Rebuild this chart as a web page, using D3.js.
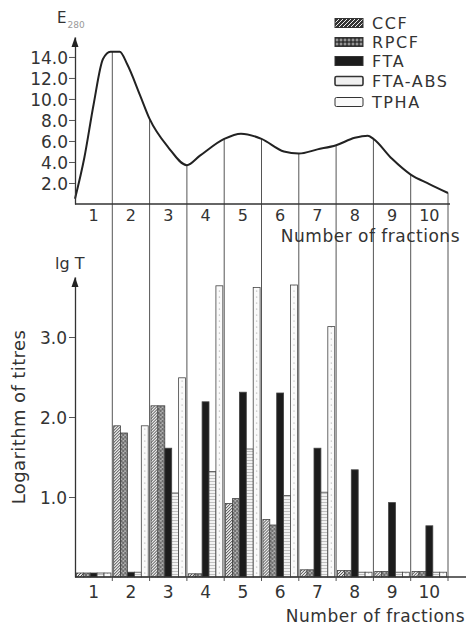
<!DOCTYPE html>
<html>
<head>
<meta charset="utf-8">
<script src="https://cdn.jsdelivr.net/npm/d3@7"></script>
<style>
  body { margin: 0; background: #fff; }
  svg text { font-family: "DejaVu Sans", sans-serif; fill: #333; }
</style>
</head>
<body>
<div id="chart"></div>
<script>
// fractions and series
var fractions = ["1", "2", "3", "4", "5", "6", "7", "8", "9", "10"];
var seriesNames = ["CCF", "RPCF", "FTA", "FTA-ABS", "TPHA"];

// lg T per fraction
var ccf    = [0.05, 1.89, 2.14, 0.04, 0.92, 0.72, 0.09, 0.08, 0.07, 0.07];
var rpcf   = [0.05, 1.80, 2.14, 0.04, 0.98, 0.65, 0.09, 0.08, 0.07, 0.07];
var fta    = [0.05, 0.06, 1.61, 2.19, 2.31, 2.30, 1.61, 1.34, 0.93, 0.64];
var ftaAbs = [0.05, 0.06, 1.05, 1.32, 1.60, 1.02, 1.06, 0.06, 0.06, 0.06];
var tpha   = [0.05, 1.89, 2.49, 3.64, 3.62, 3.65, 3.13, 0.06, 0.06, 0.06];

// E280 elution curve (position in fraction units, value)
var curvePos = [0, 0.25, 0.5, 0.75, 0.95, 1.0, 1.2, 1.4, 1.75, 2.0, 2.5, 3.0, 3.35, 4.0, 4.45, 5.0, 5.6, 6.0, 6.5, 7.0, 7.5, 7.85, 8.0, 8.5, 9.0, 9.5, 10];
var curveE   = [0.5, 4.4, 9.5, 13.8, 14.5, 14.5, 14.5, 13.3, 10.3, 8.1, 5.4, 3.7, 4.6, 6.2, 6.7, 6.2, 5.0, 4.8, 5.2, 5.6, 6.3, 6.5, 6.2, 4.3, 2.8, 1.9, 1.05];

var topTicks = [2, 4, 6, 8, 10, 12, 14];
var lowTicks = [1, 2, 3];

var W = 467, H = 627;
var left = 75, right = 448;
var topBase = 204, lowBase = 577;

var svg = d3.select("#chart").append("svg")
    .attr("width", W)
    .attr("height", H);

// patterns
var defs = svg.append("defs");

var p = defs.append("pattern").attr("id", "ccf").attr("patternUnits", "userSpaceOnUse")
    .attr("width", 3).attr("height", 3);
p.append("rect").attr("width", 3).attr("height", 3).attr("fill", "#e8e8e8");
p.append("path").attr("d", "M0,3 L3,0 M-1,1 L1,-1 M2,4 L4,2").attr("stroke", "#333").attr("stroke-width", 0.9);

p = defs.append("pattern").attr("id", "rpcf").attr("patternUnits", "userSpaceOnUse")
    .attr("width", 4).attr("height", 4);
p.append("rect").attr("width", 4).attr("height", 4).attr("fill", "#bbb");
p.append("circle").attr("cx", 1).attr("cy", 1).attr("r", 1).attr("fill", "none").attr("stroke", "#333").attr("stroke-width", 0.7);
p.append("circle").attr("cx", 3).attr("cy", 3).attr("r", 1).attr("fill", "none").attr("stroke", "#333").attr("stroke-width", 0.7);

p = defs.append("pattern").attr("id", "ftaabs").attr("patternUnits", "userSpaceOnUse")
    .attr("width", 4).attr("height", 3);
p.append("rect").attr("width", 4).attr("height", 3).attr("fill", "#f3f3f3");
p.append("line").attr("x1", 0).attr("x2", 4).attr("y1", 1.5).attr("y2", 1.5).attr("stroke", "#aaa").attr("stroke-width", 0.7);

p = defs.append("pattern").attr("id", "tpha").attr("patternUnits", "userSpaceOnUse")
    .attr("width", 5).attr("height", 6);
p.append("rect").attr("width", 5).attr("height", 6).attr("fill", "#fafafa");
p.append("circle").attr("cx", 2.5).attr("cy", 3).attr("r", 0.6).attr("fill", "#999");

// legend-only patterns (dark ground)
p = defs.append("pattern").attr("id", "ccfLeg").attr("patternUnits", "userSpaceOnUse")
    .attr("width", 4).attr("height", 4);
p.append("rect").attr("width", 4).attr("height", 4).attr("fill", "#333");
p.append("path").attr("d", "M0,4 L4,0 M-1,1 L1,-1 M3,5 L5,3").attr("stroke", "#eee").attr("stroke-width", 1);

p = defs.append("pattern").attr("id", "rpcfLeg").attr("patternUnits", "userSpaceOnUse")
    .attr("width", 4).attr("height", 4);
p.append("rect").attr("width", 4).attr("height", 4).attr("fill", "#333");
p.append("circle").attr("cx", 2).attr("cy", 2).attr("r", 1).attr("fill", "none").attr("stroke", "#ddd").attr("stroke-width", 0.7);

var fills = {
  "CCF": "url(#ccf)",
  "RPCF": "url(#rpcf)",
  "FTA": "#1c1c1c",
  "FTA-ABS": "url(#ftaabs)",
  "TPHA": "url(#tpha)"
};
var legFills = {
  "CCF": "url(#ccfLeg)",
  "RPCF": "url(#rpcfLeg)",
  "FTA": "#1c1c1c",
  "FTA-ABS": "#f0f0f0",
  "TPHA": "#fafafa"
};

// scales
var u = d3.scaleLinear().domain([0, 10]).range([left, right]);
var x = d3.scaleBand().domain(fractions).range([left, right]).padding(0);
var xs = d3.scaleBand().domain(seriesNames).range([0, x.bandwidth()]).paddingInner(0).paddingOuter(0.2);
var yTop = d3.scaleLinear().domain([0, 15.9]).range([topBase, 37]);
var yLow = d3.scaleLinear().domain([0, 3.75]).range([lowBase, 277]);

// ---------- upper panel ----------
var curveData = curvePos.map(function(d, i) { return [d, curveE[i]]; });

// dividers from curve down to the lower baseline
svg.append("g")
  .selectAll("line")
  .data(curveData.filter(function(d) { return d[0] >= 1 && Number.isInteger(d[0]); }))
  .enter()
  .append("line")
    .attr("x1", function(d) { return u(d[0]); })
    .attr("x2", function(d) { return u(d[0]); })
    .attr("y1", function(d) { return yTop(d[1]); })
    .attr("y2", lowBase + 4)
    .attr("stroke", "#555")
    .attr("stroke-width", 1);

svg.append("path")
  .datum(curveData)
  .attr("fill", "none")
  .attr("stroke", "#222")
  .attr("stroke-width", 2)
  .attr("d", d3.line()
    .x(function(d) { return u(d[0]); })
    .y(function(d) { return yTop(d[1]); })
    .curve(d3.curveMonotoneX));

var gyTop = svg.append("g")
  .attr("transform", "translate(" + left + ",0)")
  .call(d3.axisLeft(yTop).tickValues(topTicks).tickSize(6).tickSizeOuter(0).tickFormat(d3.format(".1f")));
gyTop.select(".domain").attr("stroke", "#333").attr("stroke-width", 1.3);
gyTop.selectAll(".tick line").attr("stroke", "#555");
gyTop.selectAll(".tick text").style("font-size", "17px").attr("x", -7).attr("dy", "0.36em");

svg.append("path").attr("d", "M" + left + ",37 L" + (left - 3.5) + ",47 L" + (left + 3.5) + ",47 Z").attr("fill", "#222");

svg.append("line")
  .attr("x1", left).attr("x2", right + 2)
  .attr("y1", topBase).attr("y2", topBase)
  .attr("stroke", "#333").attr("stroke-width", 1.5);

svg.append("g")
  .selectAll("text")
  .data(fractions)
  .enter()
  .append("text")
    .attr("x", function(d) { return x(d) + x.bandwidth() / 2; })
    .attr("y", 221)
    .attr("text-anchor", "middle")
    .style("font-size", "16px")
    .text(function(d) { return d; });

svg.append("text")
  .attr("x", 460).attr("y", 242)
  .attr("text-anchor", "end")
  .style("font-size", "17px")
  .style("letter-spacing", "0.5px")
  .text("Number of fractions");

var eLab = svg.append("text").attr("x", 57).attr("y", 23).style("font-size", "15px");
eLab.append("tspan").text("E");
eLab.append("tspan").attr("dy", 5).attr("dx", 1).style("font-size", "9px").style("fill", "#999").text("280");

// legend
var leg = svg.append("g")
  .selectAll("g")
  .data(seriesNames)
  .enter()
  .append("g")
    .attr("transform", function(d, i) { return "translate(335," + [23, 42, 61, 81, 102][i] + ")"; });
leg.append("rect")
  .attr("x", 0).attr("y", -4.5)
  .attr("width", 28).attr("height", 9)
  .attr("rx", function(d) { return d === "FTA-ABS" || d === "TPHA" ? 1.5 : 0; })
  .attr("fill", function(d) { return legFills[d]; })
  .attr("stroke", "#333")
  .attr("stroke-width", function(d) { return d === "FTA-ABS" ? 1.6 : 1; });
leg.append("text")
  .attr("x", 37).attr("y", 6)
  .style("font-size", "16px")
  .style("letter-spacing", "1.6px")
  .text(function(d) { return d; });

// ---------- lower panel ----------
var rows = fractions.map(function(f, i) {
  return { fraction: f, values: [ccf[i], rpcf[i], fta[i], ftaAbs[i], tpha[i]] };
});

svg.append("g")
  .selectAll("g")
  .data(rows)
  .enter()
  .append("g")
    .attr("transform", function(d) { return "translate(" + x(d.fraction) + ",0)"; })
  .selectAll("rect")
  .data(function(d) { return d.values.map(function(v, j) { return { key: seriesNames[j], value: v }; }); })
  .enter()
  .append("rect")
    .attr("x", function(d) { return xs(d.key); })
    .attr("y", function(d) { return yLow(d.value); })
    .attr("width", xs.bandwidth())
    .attr("height", function(d) { return lowBase - yLow(d.value); })
    .attr("fill", function(d) { return fills[d.key]; })
    .attr("stroke", "#444")
    .attr("stroke-width", 0.8);

var gyLow = svg.append("g")
  .attr("transform", "translate(" + left + ",0)")
  .call(d3.axisLeft(yLow).tickValues(lowTicks).tickSize(6).tickSizeOuter(0).tickFormat(d3.format(".1f")));
gyLow.select(".domain").attr("stroke", "#333").attr("stroke-width", 1.3);
gyLow.selectAll(".tick line").attr("stroke", "#555");
gyLow.selectAll(".tick text").style("font-size", "17px").attr("x", -8).attr("dy", "0.36em");

svg.append("path").attr("d", "M" + left + ",277 L" + (left - 3.5) + ",287 L" + (left + 3.5) + ",287 Z").attr("fill", "#222");

svg.append("line")
  .attr("x1", left).attr("x2", 466)
  .attr("y1", lowBase).attr("y2", lowBase)
  .attr("stroke", "#333").attr("stroke-width", 1.5);

svg.append("g")
  .selectAll("text")
  .data(fractions)
  .enter()
  .append("text")
    .attr("x", function(d) { return x(d) + x.bandwidth() / 2; })
    .attr("y", 598)
    .attr("text-anchor", "middle")
    .style("font-size", "17px")
    .text(function(d) { return d; });

svg.append("text")
  .attr("x", 465).attr("y", 622)
  .attr("text-anchor", "end")
  .style("font-size", "17px")
  .style("letter-spacing", "0.5px")
  .text("Number of fractions");

svg.append("text")
  .attr("x", 55).attr("y", 269)
  .style("font-size", "16px")
  .text("lg T");

svg.append("text")
  .attr("transform", "translate(25,417)rotate(-90)")
  .attr("text-anchor", "middle")
  .style("font-size", "18px")
  .style("letter-spacing", "0.4px")
  .text("Logarithm of titres");
</script>
</body>
</html>
